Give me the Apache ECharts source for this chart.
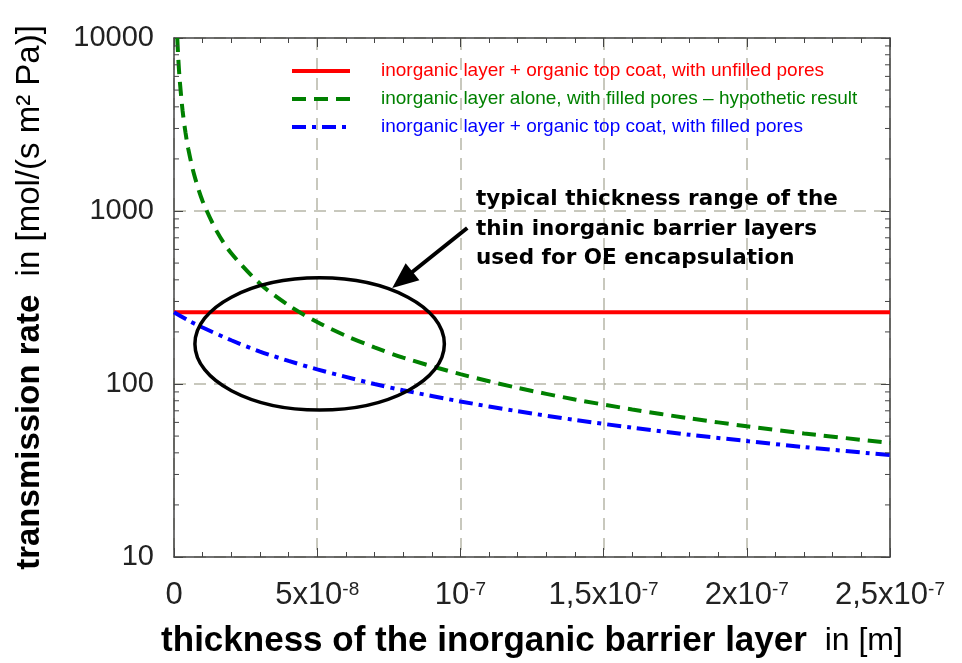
<!DOCTYPE html>
<html><head><meta charset="utf-8">
<script src="https://cdn.jsdelivr.net/npm/echarts@6/dist/echarts.min.js"></script>
<style>html,body{margin:0;padding:0;background:#fff}#c{width:962px;height:663px}</style>
</head><body><div id="c"></div>
<script>
// x values in units of 1e-8 m
const xTicks = [0, 5, 10, 15, 20, 25];
const xTickLabels = ['0', '5x10{s|-8}', '10{s|-7}', '1,5x10{s|-7}', '2x10{s|-7}', '2,5x10{s|-7}'];
const yTickValues = [10, 100, 1000, 10000];
const yTickLabels = ['10', '100', '1000', '10000'];
const yMinorValues = [20, 30, 40, 50, 60, 70, 80, 90, 200, 300, 400, 500, 600, 700, 800, 900, 2000, 3000, 4000, 5000, 6000, 7000, 8000, 9000];

const seriesNames = [
  'inorganic layer + organic top coat, with unfilled pores',
  'inorganic layer alone, with filled pores \u2013 hypothetic result',
  'inorganic layer + organic top coat, with filled pores'
];
const seriesColors = ['#ff0000', '#008000', '#0000ff'];

const redX = [0, 25];
const redY = [260, 260];
const greenX = [0.114, 0.15, 0.2, 0.3, 0.4, 0.5, 0.7, 1, 1.5, 2, 3, 4, 5, 6, 7, 8, 10, 12, 14, 16, 18, 20, 22, 25];
const greenY = [10000, 7600, 5700, 3800, 2850, 2280, 1630, 1140, 760, 570, 380, 285, 228, 190, 163, 142, 114, 95, 81.4, 71.3, 63.3, 57, 51.8, 45.6];
const blueX = [0, 0.5, 1, 2, 3, 4, 5, 6, 7, 8, 10, 12, 14, 16, 18, 20, 22, 25];
const blueY = [260, 233, 212, 179, 154, 136, 121.5, 110, 100, 92, 79.3, 69.6, 62, 55.9, 50.9, 46.8, 43.2, 38.8];

// annotation (data coordinates)
const ellipseBox = [0.73, 9.44, 70.7, 411]; // xLeft, xRight, yBottom, yTop
const arrowFrom = [10.24, 798];
const arrowTo = [7.62, 359];
const noteLines = ['typical thickness range of the', 'thin inorganic barrier layers', 'used for OE encapsulation'];

const axisColor = '#444';
const gridColor = '#b7b6a8';

const zip = (xs, ys) => xs.map((x, i) => [x, ys[i]]);

const chart = echarts.init(document.getElementById('c'), null, {renderer: 'canvas'});

const commonX = {
  type: 'value', min: 0, max: 25, interval: 5,
  axisLine: {show: true, onZero: false, lineStyle: {color: axisColor, width: 1.5}},
  axisTick: {show: true, inside: true, length: 9, lineStyle: {color: axisColor, width: 1}},
  minorTick: {show: true, splitNumber: 5, length: 5, lineStyle: {color: axisColor, width: 1}}
};
const commonY = {
  type: 'log', logBase: 10, min: 10, max: 10000,
  axisLine: {show: true, onZero: false, lineStyle: {color: axisColor, width: 1.5}},
  axisTick: {show: true, inside: true, length: 9, lineStyle: {color: axisColor, width: 1}}
};

const option = {
  backgroundColor: '#fff',
  animation: false,
  grid: {left: 174, right: 72, top: 38, bottom: 106, containLabel: false, outerBoundsMode: 'none'},
  legend: {
    orient: 'vertical', left: 290, top: 60, padding: 0,
    itemWidth: 58, itemHeight: 14, itemGap: 6,
    selectedMode: false,
    itemStyle: {opacity: 0},
    lineStyle: {width: 4},
    data: seriesNames.map((n, i) => ({name: n, textStyle: {color: seriesColors[i]}})),
    textStyle: {fontSize: 19, fontFamily: 'Liberation Sans', padding: [0, 0, 0, 26], lineHeight: 22}
  },
  xAxis: [
    Object.assign({}, commonX, {
      position: 'bottom',
      splitLine: {show: true, lineStyle: {color: gridColor, type: [12, 8], width: 1.5}},
      axisLabel: {
        margin: 23, color: '#222', fontFamily: 'Liberation Sans', fontSize: 31,
        formatter: v => { const i = xTicks.indexOf(Math.round(v)); return i >= 0 ? xTickLabels[i] : ''; },
        rich: {s: {fontSize: 19, verticalAlign: 'top', fontFamily: 'Liberation Sans', color: '#222'}}
      },
      name: '{b|thickness of the inorganic barrier layer}{n|  in [m]}',
      nameLocation: 'middle', nameGap: 67,
      nameTextStyle: {
        rich: {
          b: {fontFamily: 'Liberation Sans', fontWeight: 'bold', fontSize: 35, color: '#000'},
          n: {fontFamily: 'Liberation Sans', fontSize: 32, color: '#000'}
        }
      }
    }),
    Object.assign({}, commonX, {position: 'top', axisLabel: {show: false}, splitLine: {show: false}})
  ],
  yAxis: [
    Object.assign({}, commonY, {
      position: 'left',
      splitLine: {show: true, lineStyle: {color: gridColor, type: [12, 8], width: 1.5}},
      axisLabel: {
        margin: 20, color: '#222', fontFamily: 'Liberation Sans', fontSize: 29,
        formatter: v => { const i = yTickValues.indexOf(Math.round(v)); return i >= 0 ? yTickLabels[i] : ''; }
      },
      name: '{b|transmission rate}{n|  in [mol/(s m\u00b2 Pa)]}',
      nameLocation: 'middle', nameGap: 128,
      nameTextStyle: {
        rich: {
          b: {fontFamily: 'Liberation Sans', fontWeight: 'bold', fontSize: 33, color: '#000'},
          n: {fontFamily: 'Liberation Sans', fontSize: 33, color: '#000'}
        }
      }
    }),
    Object.assign({}, commonY, {position: 'right', axisLabel: {show: false}, splitLine: {show: false}})
  ],
  graphic: [{
    type: 'text', left: 476, top: 185, z: 100,
    style: {
      text: noteLines.join('\n'), font: 'bold 21.5px "DejaVu Sans"', lineHeight: 29.5, fill: '#000'
    }
  }],
  series: [
    {
      name: seriesNames[0], type: 'line', data: zip(redX, redY), showSymbol: false, symbol: 'none',
      lineStyle: {color: seriesColors[0], width: 4}, itemStyle: {color: seriesColors[0]}, z: 3
    },
    {
      name: seriesNames[1], type: 'line', data: zip(greenX, greenY), showSymbol: false, symbol: 'none', smooth: 0.3,
      lineStyle: {color: seriesColors[1], width: 4, type: [14, 8]}, itemStyle: {color: seriesColors[1]}, z: 3
    },
    {
      name: seriesNames[2], type: 'line', data: zip(blueX, blueY), showSymbol: false, symbol: 'none', smooth: 0.3,
      lineStyle: {color: seriesColors[2], width: 4, type: [14, 6, 4, 6]}, itemStyle: {color: seriesColors[2]}, z: 3
    },
    {
      type: 'custom', silent: true, z: 5,
      data: yMinorValues.map(v => [0, v]),
      renderItem: (params, api) => {
        const cs = params.coordSys;
        const y = api.coord([0, api.value(1)])[1];
        return {type: 'group', children: [
          {type: 'line', shape: {x1: cs.x, y1: y, x2: cs.x + 5, y2: y}, style: {stroke: axisColor, lineWidth: 1}},
          {type: 'line', shape: {x1: cs.x + cs.width, y1: y, x2: cs.x + cs.width - 5, y2: y}, style: {stroke: axisColor, lineWidth: 1}}
        ]};
      }
    },
    {
      type: 'custom', silent: true, z: 10,
      data: [[ellipseBox[0], ellipseBox[3]]],
      renderItem: (params, api) => {
        const p1 = api.coord([ellipseBox[0], ellipseBox[3]]);
        const p2 = api.coord([ellipseBox[1], ellipseBox[2]]);
        const a = api.coord(arrowFrom), b = api.coord(arrowTo);
        const dx = b[0] - a[0], dy = b[1] - a[1];
        const L = Math.sqrt(dx * dx + dy * dy);
        const ux = dx / L, uy = dy / L;
        const hl = 26, hw = 11;
        const bx = b[0] - ux * hl, by = b[1] - uy * hl;
        return {type: 'group', children: [
          {type: 'ellipse', shape: {cx: (p1[0] + p2[0]) / 2, cy: (p1[1] + p2[1]) / 2, rx: Math.abs(p2[0] - p1[0]) / 2, ry: Math.abs(p2[1] - p1[1]) / 2},
           style: {fill: 'none', stroke: '#000', lineWidth: 3.5}},
          {type: 'line', shape: {x1: a[0], y1: a[1], x2: bx + ux * 2, y2: by + uy * 2}, style: {stroke: '#000', lineWidth: 4}},
          {type: 'polygon', shape: {points: [[b[0], b[1]], [bx - uy * hw, by + ux * hw], [bx + uy * hw, by - ux * hw]]}, style: {fill: '#000'}}
        ]};
      }
    }
  ]
};
chart.setOption(option);
</script>
</body></html>
